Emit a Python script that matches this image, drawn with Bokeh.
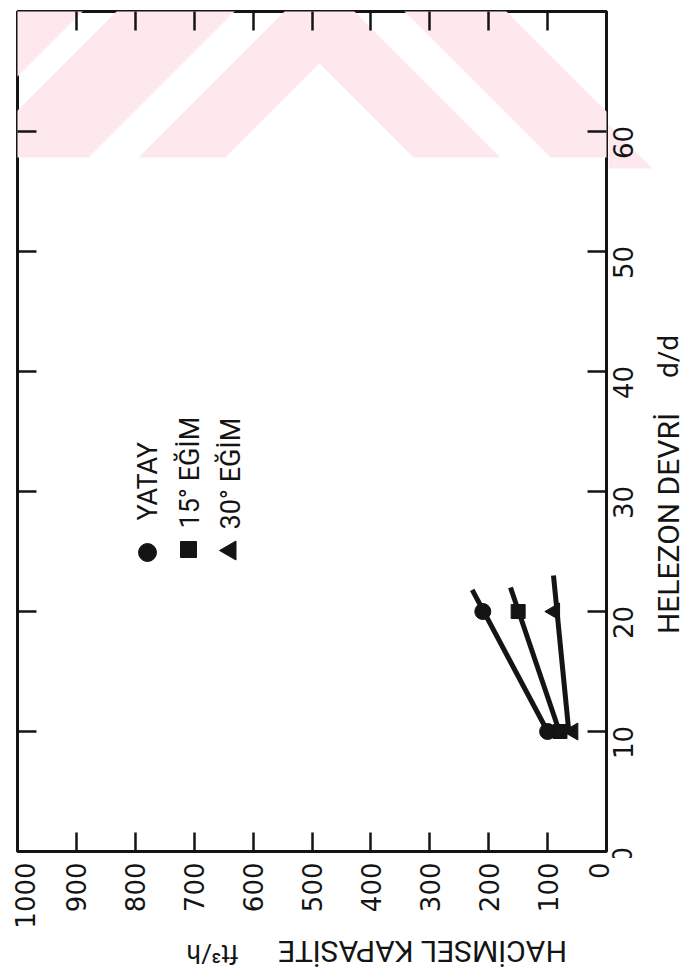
import math
from bokeh.plotting import figure
from bokeh.layouts import column, row
from bokeh.models import (Range1d, LinearAxis, FixedTicker, Label, LabelSet,
                          PolyAnnotation, ColumnDataSource)
from bokeh.core.properties import value
from bokeh.embed import file_html
from bokeh.resources import INLINE

# ---------------- data ----------------
# x (chart) : Helezon devri  d/d      y (chart) : hacimsel kapasite ft^3/h
speed_points = [10, 20]
yatay_cap = [100, 210]
egim15_cap = [79, 150]
egim30_cap = [57, 88]

# fitted lines drawn through the points (start / end)
yatay_line_speed = [10, 21.8]
yatay_line_cap = [100, 228]
egim15_line_speed = [10, 22.0]
egim15_line_cap = [80, 163]
egim30_line_speed = [10, 23.0]
egim30_line_cap = [64, 90]

cap_ticks = [0, 100, 200, 300, 400, 500, 600, 700, 800, 900, 1000]
speed_ticks = [0, 10, 20, 30, 40, 50, 60]

legend_names = ["YATAY", "15° EĞİM", "30° EĞİM"]
speed_title = "HELEZON DEVRİ"
speed_unit = "d/d"
cap_title = "HACİMSEL KAPASİTE"
cap_unit = "ft³/h"

# ---------------- layout helpers (page pixels -> data) ----------------
FL, FR, FT, FB = 17, 606, 11, 851          # frame edges on the page
CAP_MAX, SPD_MAX = 1000, 70
PAGE_L, PAGE_R, PAGE_T, PAGE_B = 0, 688, 0, 974
MAIN_R, MAIN_B = 608, 858                  # where the main figure ends


def cx(px):
    return CAP_MAX * (FR - px) / (FR - FL)


def cy(py):
    return SPD_MAX * (FB - py) / (FB - FT)


INK = "#141414"
PINK = "#fde9ed"
TICK_FONT = "DejaVu Sans"
TEXT_FONT = "Roboto"

# ---------------- main figure ----------------
p = figure(
    title=None,
    frame_width=FR - FL, frame_height=FB - FT,
    min_border_left=FL - PAGE_L, min_border_top=FT - PAGE_T,
    min_border_right=MAIN_R - FR, min_border_bottom=MAIN_B - FB,
    x_range=Range1d(CAP_MAX, 0), y_range=Range1d(0, SPD_MAX),
    x_axis_location="below", y_axis_location="right",
    output_backend="svg", toolbar_location=None,
    background_fill_color="white", border_fill_color="white",
)
p.grid.visible = False
p.outline_line_color = INK
p.outline_line_width = 3

# side figures that carry the texts outside the frame
p_r = figure(
    title=None, frame_width=PAGE_R - MAIN_R, frame_height=MAIN_B - PAGE_T,
    min_border=0, x_range=Range1d(cx(MAIN_R), cx(PAGE_R)),
    y_range=Range1d(cy(MAIN_B), cy(PAGE_T)),
    x_axis_location=None, y_axis_location=None,
    output_backend="svg", toolbar_location=None,
    background_fill_color="white", border_fill_color="white",
)
p_r.outline_line_color = None
p_r.grid.visible = False

p_b = figure(
    title=None, frame_width=PAGE_R - PAGE_L, frame_height=PAGE_B - MAIN_B,
    min_border=0, x_range=Range1d(cx(PAGE_L), cx(PAGE_R)),
    y_range=Range1d(cy(PAGE_B), cy(MAIN_B)),
    x_axis_location=None, y_axis_location=None,
    output_backend="svg", toolbar_location=None,
    background_fill_color="white", border_fill_color="white",
)
p_b.outline_line_color = None
p_b.grid.visible = False

# ---------------- watermark (light pink stripes) ----------------
def band(a, b):
    return [(a, 0), (b, 0), (b + 157, 157), (a + 157, 157)]

shapes = [
    [(0, 0), (93, 0), (0, 93)],
    [(127, 0), (245, 0), (88, 157), (0, 157), (0, 127)],
    [(295, 0), (343, 0), (500, 157), (413, 157), (319, 63),
     (225, 157), (138, 157)],
    band(393, 495),
]
for fig in (p, p_r):
    for shp in shapes:
        fig.add_layout(PolyAnnotation(
            xs=[cx(a) for a, b in shp], ys=[cy(b) for a, b in shp],
            fill_color=PINK, fill_alpha=1.0, line_color=None, level="underlay"))

# ---------------- axes (ticks inside on all four sides) ----------------
def style_axis(ax, ticks):
    ax.ticker = FixedTicker(ticks=ticks)
    ax.axis_line_color = None
    ax.major_tick_in = 19
    ax.major_tick_out = 0
    ax.major_tick_line_color = INK
    ax.major_tick_line_width = 2.5
    ax.minor_tick_line_color = None
    ax.major_label_text_font_size = "0px"
    ax.major_label_text_color = None
    ax.major_label_standoff = 0

style_axis(p.xaxis[0], cap_ticks)
style_axis(p.yaxis[0], speed_ticks)
top = LinearAxis()
style_axis(top, cap_ticks[1:-1])
p.add_layout(top, "above")
left = LinearAxis()
style_axis(left, speed_ticks[1:])
p.add_layout(left, "left")

# ---------------- tick labels (rotated like the scan) ----------------
cap_offsets = [-8 if t == 0 else (7 if t == CAP_MAX else 0) for t in cap_ticks]
cap_src = ColumnDataSource(dict(x=cap_ticks, y=[cy(862)] * len(cap_ticks),
                                t=[str(v) for v in cap_ticks], off=cap_offsets))
p_b.add_layout(LabelSet(x="x", y="y", text="t", source=cap_src, angle=math.pi / 2,
                        x_offset="off", text_align="right", text_baseline="middle",
                        text_font=value(TICK_FONT), text_font_size=value("26px"),
                        text_color=INK))

# the "0" label sits just above the corner, as in the scan
spd_label_y = [t if t > 0 else 0.6 for t in speed_ticks]
spd_src = ColumnDataSource(dict(x=[cx(612)] * len(speed_ticks), y=spd_label_y,
                                t=[str(v) for v in speed_ticks]))
p_r.add_layout(LabelSet(x="x", y="y", text="t", source=spd_src, angle=math.pi / 2,
                        text_align="center", text_baseline="top",
                        text_font=value(TICK_FONT), text_font_size=value("26px"),
                        text_color=INK))

# ---------------- axis titles ----------------
p_r.add_layout(Label(x=cx(668), y=cy(512), text=speed_title, angle=math.pi / 2,
                     text_align="center", text_baseline="middle",
                     text_font=TEXT_FONT, text_font_size="30px", text_color=INK))
p_r.add_layout(Label(x=cx(668), y=cy(345), text=speed_unit, angle=math.pi / 2,
                     text_align="center", text_baseline="middle",
                     text_font=TEXT_FONT, text_font_size="28px", text_color=INK))
p_b.add_layout(Label(x=cx(422), y=cy(951), text=cap_title, angle=math.pi,
                     text_align="center", text_baseline="middle",
                     text_font=TEXT_FONT, text_font_size="30px", text_color=INK))
p_b.add_layout(Label(x=cx(212), y=cy(953), text=cap_unit, angle=math.pi,
                     text_align="center", text_baseline="middle",
                     text_font=TEXT_FONT, text_font_size="26px", text_color=INK))

# ---------------- data marks ----------------
p.line(yatay_line_cap, yatay_line_speed, line_width=5, line_color=INK)
p.line(egim15_line_cap, egim15_line_speed, line_width=5, line_color=INK)
p.line(egim30_line_cap, egim30_line_speed, line_width=5, line_color=INK)

p.scatter(yatay_cap, speed_points, marker="circle", size=16, color=INK)
p.scatter(egim15_cap, speed_points, marker="square", size=14, color=INK)
p.scatter(egim30_cap, speed_points, marker="triangle", size=17, angle=math.pi / 2,
          color=INK)

# ---------------- legend (rotated, drawn by hand) ----------------
p.scatter([cx(147)], [cy(552)], marker="circle", size=18, color=INK)
p.scatter([cx(188)], [cy(549)], marker="square", size=16, color=INK)
p.scatter([cx(230)], [cy(550)], marker="triangle", size=19, angle=math.pi / 2,
          color=INK)
for name, (lx, ly) in zip(legend_names, [(147, 520), (189, 528), (230, 529)]):
    p.add_layout(Label(x=cx(lx), y=cy(ly), text=name, angle=math.pi / 2,
                       text_align="left", text_baseline="middle",
                       text_font=TEXT_FONT, text_font_size="27px",
                       text_color=INK))

layout = column(row(p, p_r, spacing=0), p_b, spacing=0)
open("out.html", "w").write(file_html(layout, INLINE))
